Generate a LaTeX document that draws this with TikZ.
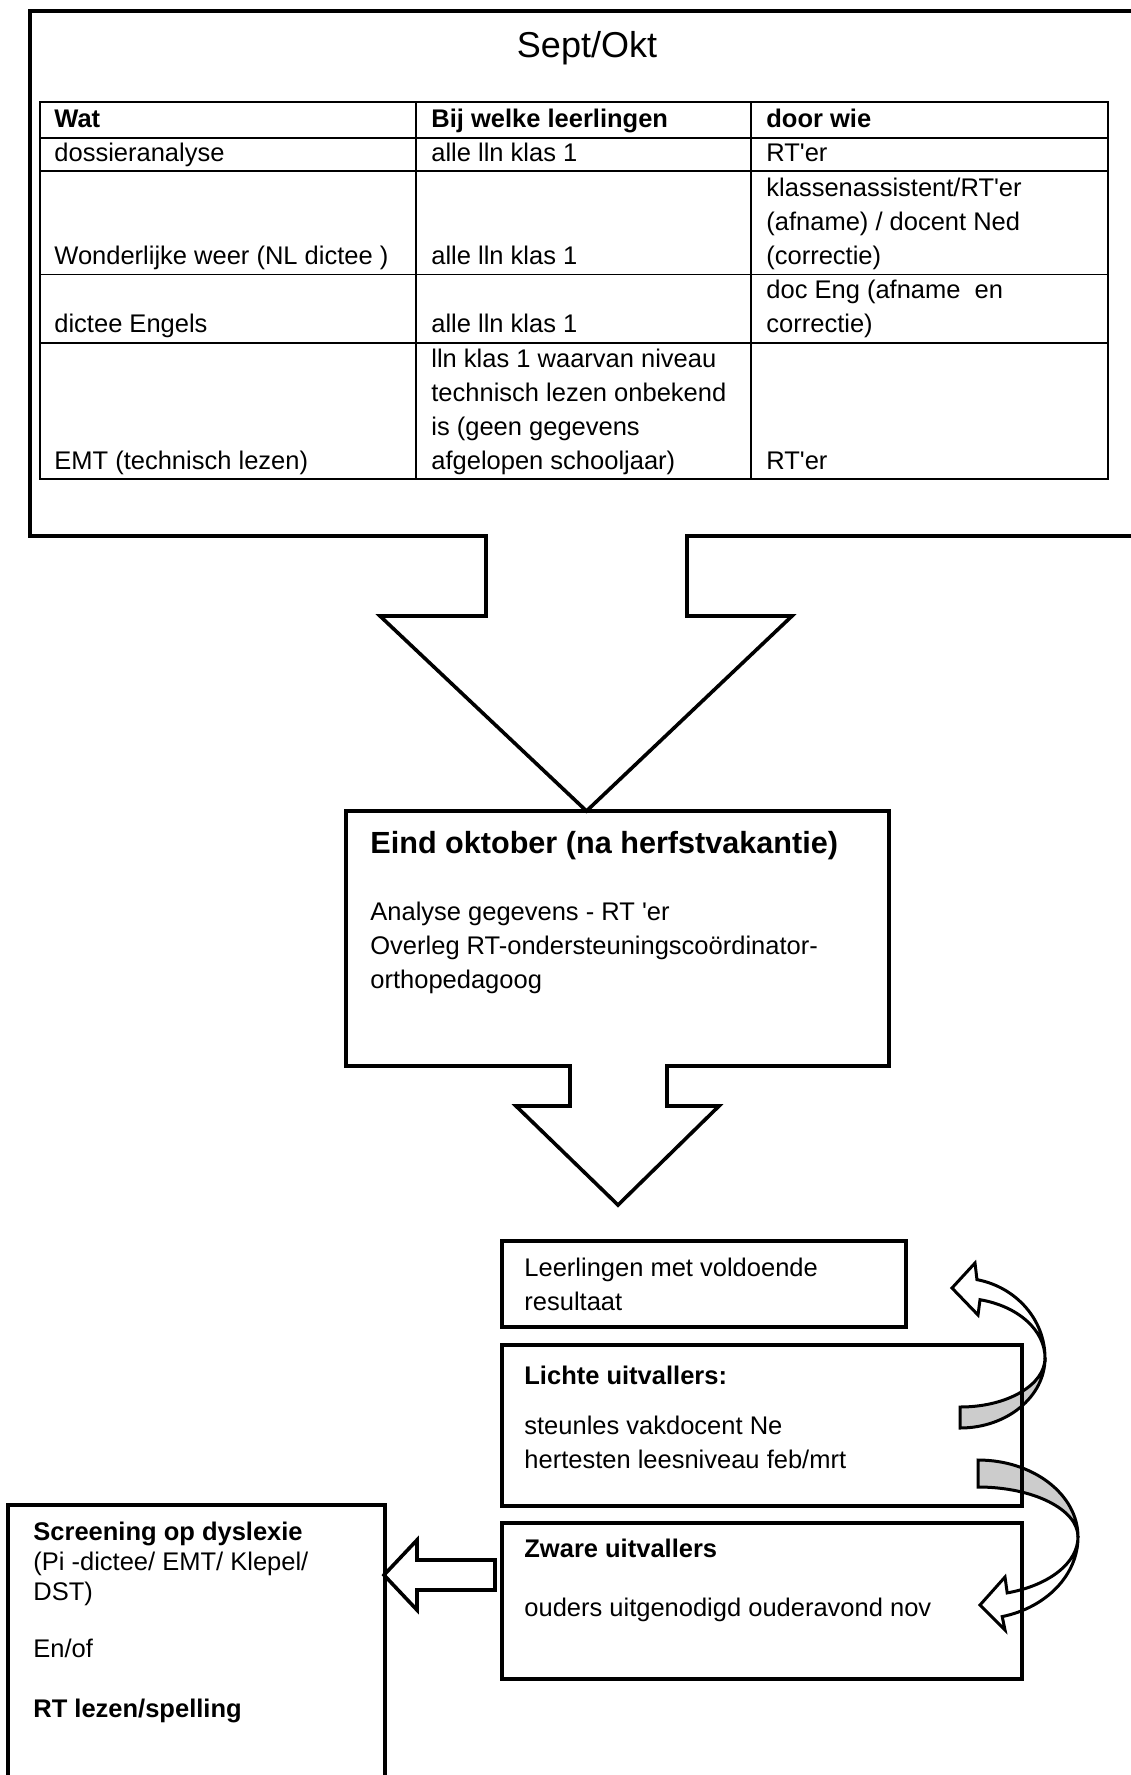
\documentclass[tikz,border=0pt]{standalone}
\usepackage{fontspec}
\setmainfont{Liberation Sans}[Ligatures=TeXOff]

\tikzset{
  txt/.style={anchor=base west,inner sep=0pt,align=left,font=\fontsize{12.75}{17}\selectfont},
  hd/.style={txt,font=\fontsize{12.75}{17}\selectfont\bfseries},
  boxline/.style={draw,line width=1.8pt,line join=miter},
  tabline/.style={draw,line width=0.9pt},
  bandback/.style={draw,line width=1.5pt,fill=gray!40},
  bandfront/.style={draw,line width=1.5pt,fill=white}
}

\begin{document}
\begin{tikzpicture}[x=0.5pt,y=-0.5pt]
      \useasboundingbox (0,0) rectangle (1130,1775);
      % Sept/Okt block with arrow
      \draw[boxline] (1150,536)--(687,536)--(687,616)--(792,616)--(586.5,811)--(380,616)--(486,616)--(486,536)--(30,536)--(30,11)--(1150,11);
      \node (sept) at (587,48) {\fontsize{18}{22}\selectfont Sept/Okt};
      % table
      \draw[tabline] (40,102) rectangle (1108,479);
      \foreach \y in {138,171,274.5,343}
        \draw[tabline] (40,\y)--(1108,\y);
      \draw[tabline] (416,102)--(416,479);
      \draw[tabline] (751,102)--(751,479);
      \node[hd] (wat) at (54,128) {Wat};
      \node[hd] (bij) at (431,128) {Bij welke leerlingen};
      \node[hd] (door) at (766,128) {door wie};
      \node[txt] (dos) at (54,162) {dossieranalyse};
      \node[txt] (dosll) at (431,162) {alle lln klas 1};
      \node[txt] (doswie) at (766,162) {RT'er};
      \node[txt] (won) at (54,264.5) {Wonderlijke weer (NL dictee )};
      \node[txt] (wonll) at (431,264.5) {alle lln klas 1};
      \node[txt] (wonwie) at (766,264.5) {klassenassistent/RT'er\\(afname) / docent Ned\\(correctie)};
      \node[txt] (eng) at (54,333) {dictee Engels};
      \node[txt] (engll) at (431,333) {alle lln klas 1};
      \node[txt] (engwie) at (766,333) {doc Eng (afname\ \ en\\correctie)};
      \node[txt] (emt) at (54,469) {EMT (technisch lezen)};
      \node[txt] (emtll) at (431,469) {lln klas 1 waarvan niveau\\technisch lezen onbekend\\is (geen gegevens\\afgelopen schooljaar)};
      \node[txt] (emtwie) at (766,469) {RT'er};
      % Eind oktober block with arrow
      \draw[boxline] (346,811)--(889,811)--(889,1066)--(667,1066)--(667,1106)--(719,1106)--(618,1205)--(516,1106)--(570,1106)--(570,1066)--(346,1066)--cycle;
      \node[txt,font=\fontsize{15.3}{18}\selectfont\bfseries] (eind) at (370,853) {Eind oktober (na herfstvakantie)};
      \node[txt] (analyse) at (370,988) {Analyse gegevens - RT 'er\\Overleg RT-ondersteuningscoördinator-\\orthopedagoog};
      % curved arrows
      \draw[bandback] (960,1428) arc[start angle=90,end angle=0,x radius=85,y radius=70]
        arc[start angle=0,end angle=90,x radius=85,y radius=49] -- cycle;
      \draw[bandfront] (1045,1358) arc[start angle=0,end angle=-78.5,x radius=85,y radius=80]
        -- (975,1263) -- (952,1288) -- (978,1315) -- (980,1299.7)
        arc[start angle=-76.4,end angle=0,x radius=85,y radius=60] -- cycle;
      \draw[bandback] (978,1460) arc[start angle=-90,end angle=0,x radius=100,y radius=77]
        arc[start angle=0,end angle=-90,x radius=100,y radius=50] -- cycle;
      \draw[bandfront] (1078,1537) arc[start angle=0,end angle=76,x radius=100,y radius=82]
        -- (1005,1630) -- (980,1605) -- (1005,1577) -- (1007.2,1592.9)
        arc[start angle=73,end angle=0,x radius=100,y radius=58.5] -- cycle;
      % result boxes
      \draw[boxline] (502,1241) rectangle (906,1327);
      \node[txt] (voldoende) at (524,1310) {Leerlingen met voldoende\\resultaat};
      \draw[boxline] (502,1345) rectangle (1022,1506);
      \node[hd] (licht) at (524,1384) {Lichte uitvallers:};
      \node[txt] (steun) at (524,1468) {steunles vakdocent Ne\\hertesten leesniveau feb/mrt};
      \draw[boxline] (502,1523) rectangle (1022,1679);
      \node[hd] (zwaar) at (524,1557) {Zware uitvallers};
      \node[txt] (ouders) at (524,1616) {ouders uitgenodigd ouderavond nov};
      % arrow to screening
      \draw[boxline] (495,1560)--(417,1560)--(417,1540)--(384,1575)--(417,1610)--(417,1590)--(495,1590)--cycle;
      \draw[boxline] (385,1790)--(385,1505)--(8,1505)--(8,1790);
      \node[hd] (screen) at (33,1540) {Screening op dyslexie};
      \node[txt,font=\fontsize{12.75}{14.75}\selectfont] (tests) at (33,1600) {(Pi -dictee/ EMT/ Klepel/\\DST)};
      \node[txt] (enof) at (33,1657) {En/of};
      \node[hd] (rtlez) at (33,1717) {RT lezen/spelling};
    \end{tikzpicture}
\end{document}
